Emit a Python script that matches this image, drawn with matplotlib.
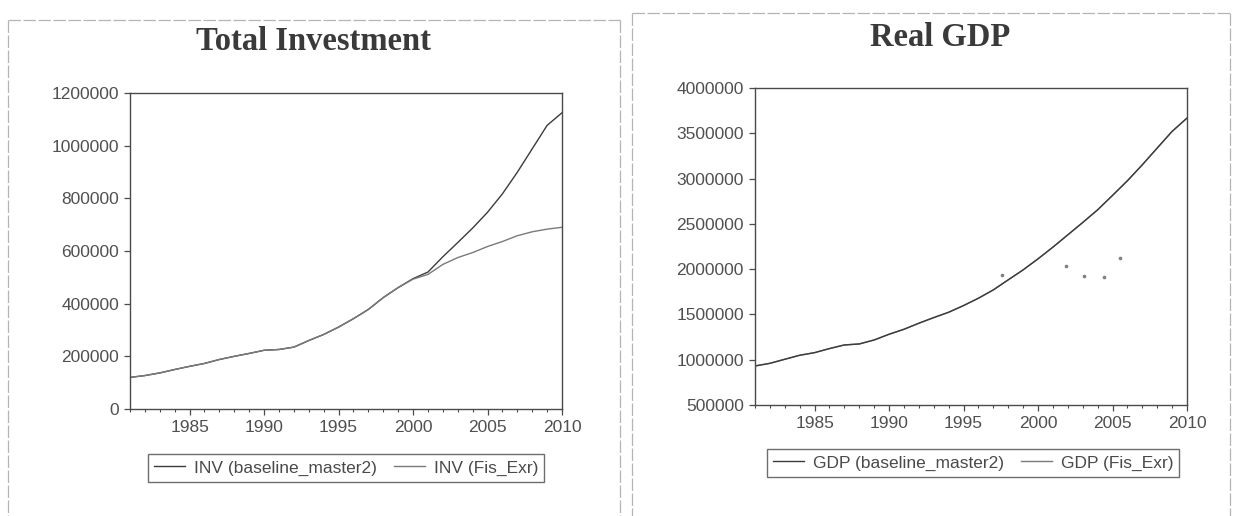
import matplotlib
matplotlib.use("Agg")
import matplotlib.pyplot as plt
from matplotlib.lines import Line2D
from matplotlib.ticker import MultipleLocator, FixedLocator

years = list(range(1981, 2011))

inv_baseline = [120000, 127000, 137000, 150000, 162000, 173000, 188000, 200000, 211000, 223000,
                226000, 235000, 260000, 283000, 311000, 343000, 378000, 423000, 461000, 495000,
                520000, 578000, 632000, 687000, 747000, 817000, 899000, 988000, 1077000, 1125000]
inv_fis_exr = [120000, 127000, 137000, 150000, 162000, 173000, 188000, 200000, 211000, 223000,
               226000, 235000, 260000, 283000, 311000, 343000, 378000, 423000, 461000, 493000,
               511000, 549000, 575000, 594000, 617000, 636000, 658000, 673000, 683000, 690000]

gdp_baseline = [931000, 960000, 1005000, 1049000, 1078000, 1123000, 1163000, 1174000, 1218000, 1281000,
                1336000, 1403000, 1465000, 1524000, 1598000, 1679000, 1771000, 1882000, 1992000, 2114000,
                2243000, 2379000, 2515000, 2655000, 2814000, 2976000, 3152000, 3337000, 3521000, 3668000]
gdp_fis_exr = list(gdp_baseline)

# stray scan specks visible on the GDP panel
speck_x = [1997.6, 2001.9, 2003.1, 2004.4, 2005.5]
speck_y = [1937000, 2036000, 1929000, 1918000, 2128000]

inv_yticks = [0, 200000, 400000, 600000, 800000, 1000000, 1200000]
gdp_yticks = [500000, 1000000, 1500000, 2000000, 2500000, 3000000, 3500000, 4000000]
xticks = [1985, 1990, 1995, 2000, 2005, 2010]

W, H = 1239, 516
fig = plt.figure(figsize=(W / 100, H / 100), dpi=100)
fig.patch.set_facecolor("white")

plt.rcParams["font.family"] = ["Liberation Sans", "DejaVu Sans"]

tick_col = "#505050"
spine_col = "#4a4a4a"
c_base = "#3c3c3c"
c_fis = "#7a7a7a"


def px_rect(x0, x1, ytop, ybot):
    return [x0 / W, 1 - ybot / H, (x1 - x0) / W, (ybot - ytop) / H]


def style(ax, ylim, yticks):
    ax.set_xlim(1981, 2010)
    ax.set_ylim(*ylim)
    ax.xaxis.set_major_locator(FixedLocator(xticks))
    ax.xaxis.set_minor_locator(MultipleLocator(1))
    ax.set_yticks(yticks)
    ax.set_yticklabels([str(v) for v in yticks])
    ax.set_xticklabels([str(v) for v in xticks])
    for s in ax.spines.values():
        s.set_color(spine_col)
        s.set_linewidth(1.0)
    ax.tick_params(axis="both", which="major", direction="out", length=4, width=0.9,
                   colors=spine_col, labelcolor=tick_col, labelsize=12.5, pad=4)
    ax.tick_params(axis="x", which="minor", direction="out", length=2.5, width=0.8, colors=spine_col)
    ax.tick_params(axis="y", which="minor", left=False)


# Left panel
ax1 = fig.add_axes(px_rect(130, 562, 93, 409))
ax1.plot(years, inv_baseline, color=c_base, lw=1.0, label="INV (baseline_master2)")
ax1.plot(years, inv_fis_exr, color=c_fis, lw=1.0, label="INV (Fis_Exr)")
style(ax1, (0, 1200000), inv_yticks)
fig.text(313 / W, 1 - 41 / H, "Total Investment", ha="center", va="center",
         family="Liberation Serif", fontweight="bold", fontsize=23.5, color="#3a3a3a")
leg1 = ax1.legend(loc="center", bbox_to_anchor=(346 / W, 1 - 468 / H),
                  bbox_transform=fig.transFigure, ncol=2, fontsize=12.5,
                  frameon=True, fancybox=False, handlelength=1.8, handletextpad=0.5,
                  columnspacing=1.0, borderpad=0.35, borderaxespad=0)
leg1.get_frame().set_edgecolor(spine_col)
leg1.get_frame().set_linewidth(1.0)
for t in leg1.get_texts():
    t.set_color("#4a4a4a")

# Right panel
ax2 = fig.add_axes(px_rect(755, 1187, 88, 405))
ax2.plot(years, gdp_fis_exr, color=c_fis, lw=1.0, label="GDP (Fis_Exr)")
ax2.plot(years, gdp_baseline, color=c_base, lw=1.0, label="GDP (baseline_master2)")
ax2.plot(speck_x, speck_y, ls="none", marker="o", ms=1.6, color="#808080")
style(ax2, (500000, 4000000), gdp_yticks)
fig.text(940 / W, 1 - 37 / H, "Real GDP", ha="center", va="center",
         family="Liberation Serif", fontweight="bold", fontsize=23.5, color="#3a3a3a")
h, l = ax2.get_legend_handles_labels()
leg2 = ax2.legend([h[1], h[0]], [l[1], l[0]], loc="center", bbox_to_anchor=(973 / W, 1 - 463 / H),
                  bbox_transform=fig.transFigure, ncol=2, fontsize=12.5,
                  frameon=True, fancybox=False, handlelength=1.8, handletextpad=0.5,
                  columnspacing=1.0, borderpad=0.35, borderaxespad=0)
leg2.get_frame().set_edgecolor(spine_col)
leg2.get_frame().set_linewidth(1.0)
for t in leg2.get_texts():
    t.set_color("#4a4a4a")

# Panel frames (scanned look)
frame_col = "#b4b4b4"
dash = (0, (10, 2))
for (x0, x1, yt) in [(8, 620, 20), (632, 1230, 13)]:
    fig.add_artist(Line2D([x0 / W, x1 / W], [1 - yt / H, 1 - yt / H], color=frame_col,
                          lw=0.9, ls=dash, transform=fig.transFigure))
    for xx in (x0, x1):
        fig.add_artist(Line2D([xx / W, xx / W], [1 - yt / H, 0], color=frame_col,
                              lw=0.9, ls=dash, transform=fig.transFigure))

fig.savefig("out.png", dpi=100, facecolor="white")
